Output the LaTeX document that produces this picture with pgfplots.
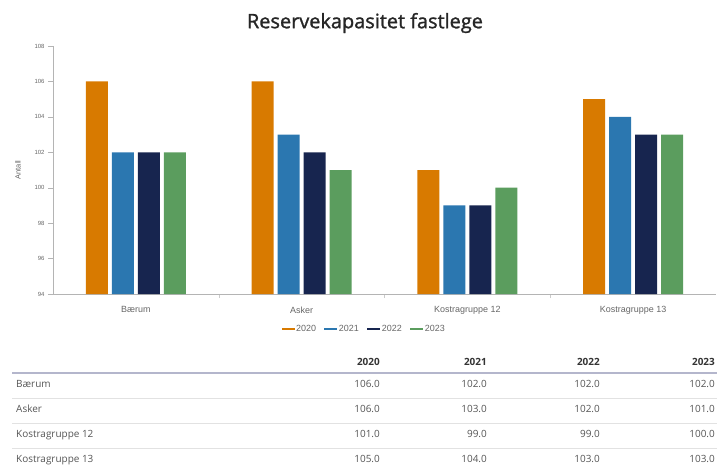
\documentclass[border=0pt]{standalone}
\usepackage{pgfplots}
\pgfplotsset{compat=1.18}
\usepackage{pgfplotstable}
\usepackage{fontspec}
\setmainfont{Open Sans}
\newfontfamily\chartfont{Liberation Sans}
\newfontfamily\titlefont[FakeBold=1.3]{Open Sans}

\definecolor{c2020}{HTML}{D87A00}
\definecolor{c2021}{HTML}{2B77B0}
\definecolor{c2022}{HTML}{17254F}
\definecolor{c2023}{HTML}{5B9D5E}
\definecolor{axisgray}{HTML}{B4B4B4}
\definecolor{labelgray}{HTML}{666666}
\definecolor{tabletext}{HTML}{555555}
\definecolor{headline}{HTML}{B4B6CC}
\definecolor{rowline}{HTML}{E2E2E2}

% Reserve capacity per municipality / group and year
\pgfplotstableread[col sep=comma]{
x,name,y2020,y2021,y2022,y2023
0,Bærum,106,102,102,102
1,Asker,106,103,102,101
2,Kostragruppe 12,101,99,99,100
3,Kostragruppe 13,105,104,103,103
}\data

\begin{document}
\begin{tikzpicture}
\path[use as bounding box] (0,0) rectangle (720bp,-467bp);

\node[font=\titlefont\fontsize{20}{24}\selectfont, text=black!85] at (365bp,-23bp) {Reservekapasitet fastlege};

\begin{axis}[
  at={(53bp,-294bp)}, anchor=south west,
  scale only axis, width=663bp, height=248bp,
  ybar=4bp, bar width=22bp,
  xmin=-0.5, xmax=3.5, ymin=94, ymax=108,
  ytick={94,96,...,108},
  xtick={0,1,2,3},
  xticklabels from table={\data}{name},
  minor xtick={0.5,1.5,2.5},
  axis x line=bottom, axis y line=left,
  axis line style={-, draw=axisgray},
  tick align=outside,
  major tick length=5bp, minor tick length=4bp,
  major x tick style={draw=none},
  minor x tick style={draw=axisgray!70},
  ytick style={draw=axisgray},
  /pgf/number format/assume math mode=true,
  yticklabel style={font=\chartfont\fontsize{6}{7}\selectfont, text=labelgray},
  xticklabel style={font=\chartfont\fontsize{9}{10}\selectfont, text=labelgray, yshift=-4bp},
  ylabel={Antall},
  ylabel style={at={(axis description cs:-0.0528,0.5)}, anchor=center, font=\chartfont\fontsize{7.5}{8}\selectfont, text=labelgray},
  legend style={at={(0.469,-0.142)}, anchor=center, draw=none, fill=none,
    legend columns=4, font=\chartfont\fontsize{9}{10}\selectfont, text=labelgray,
    nodes={inner sep=1.5bp},
    /tikz/every even column/.append style={column sep=7bp}},
  legend image code/.code={\fill[#1] (0bp,-1.1bp) rectangle (13bp,1.1bp);},
  clip=false,
]
\addplot[fill=c2020, draw=none] table[x=x, y=y2020, col sep=comma] {\data};
\addplot[fill=c2021, draw=none] table[x=x, y=y2021, col sep=comma] {\data};
\addplot[fill=c2022, draw=none] table[x=x, y=y2022, col sep=comma] {\data};
\addplot[fill=c2023, draw=none] table[x=x, y=y2023, col sep=comma] {\data};
\legend{2020,2021,2022,2023}
\end{axis}

% data table below the chart
\begin{scope}[font=\fontsize{10}{12}\selectfont, text=tabletext]
  \foreach \h/\cx in {2020/380,2021/487,2022/600,2023/715}{
    \node[anchor=mid east, inner sep=0pt, font=\bfseries\fontsize{10}{12}\selectfont, text=black!80] at (\cx bp,-363bp) {\h};
  }
  \draw[headline, line width=2bp] (12bp,-373bp) -- (717bp,-373bp);
  \foreach \r in {0,...,3}{
    \pgfmathsetmacro\ry{385+25*\r}
    \pgfplotstablegetelem{\r}{name}\of\data
    \node[anchor=mid west, inner sep=0pt] at (16bp,-\ry bp) {\pgfplotsretval};
    \foreach \c/\cx in {y2020/380,y2021/487,y2022/600,y2023/715}{
      \pgfplotstablegetelem{\r}{\c}\of\data
      \node[anchor=mid east, inner sep=0pt] at (\cx bp,-\ry bp)
        {\pgfmathprintnumber[fixed,fixed zerofill,precision=1,assume math mode=true]{\pgfplotsretval}};
    }
  }
  \foreach \sy in {398.5,423.5,448.5}{
    \draw[rowline, line width=1bp] (12bp,-\sy bp) -- (717bp,-\sy bp);
  }
\end{scope}
\end{tikzpicture}
\end{document}
